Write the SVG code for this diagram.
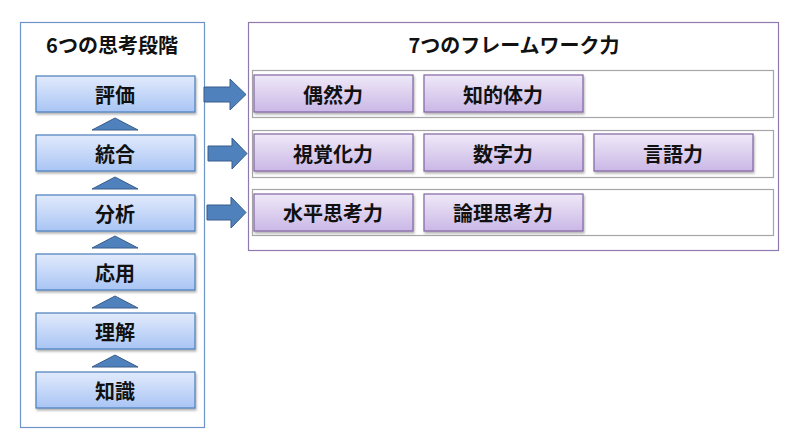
<svg xmlns="http://www.w3.org/2000/svg" width="808" height="447" viewBox="0 0 808 447">
<defs>
<linearGradient id="gBlue" x1="0" y1="0" x2="0" y2="1">
<stop offset="0" stop-color="#e2eafc"/>
<stop offset="1" stop-color="#a9c5f4"/>
</linearGradient>
<linearGradient id="gPurple" x1="0" y1="0" x2="0" y2="1">
<stop offset="0" stop-color="#efe9f8"/>
<stop offset="1" stop-color="#cab7e6"/>
</linearGradient>
<filter id="sh" x="-10%" y="-20%" width="130%" height="160%">
<feDropShadow dx="1" dy="2" stdDeviation="1.2" flood-color="#000" flood-opacity="0.3"/>
</filter>
<path id="up" d="M0,-6 L23,6 L-23,6 Z"/>
</defs>
<style>
text{font-family:"Noto Sans CJK JP","Noto Sans CJK SC",sans-serif;font-weight:bold;text-anchor:middle;dominant-baseline:central;fill:#111}
.t{font-size:20px}
.l{font-size:20px}
.stage{fill:url(#gBlue);stroke:#4a7ebb;stroke-width:1.2;filter:url(#sh)}
.fw{fill:url(#gPurple);stroke:#8064a2;stroke-width:1.2;filter:url(#sh)}
.row{fill:#fff;stroke:#a6a6a6;stroke-width:1.2}
.tri{fill:#4f81bd;stroke:#385d8a;stroke-width:1}
.arr{fill:#4f81bd;stroke:#385d8a;stroke-width:1}
</style>
<rect width="808" height="447" fill="#fff"/>
<g id="stages-panel">
<rect x="20.5" y="22.5" width="184" height="405" fill="#fff" stroke="#6d94c9" stroke-width="1.2"/>
<text class="t" x="112" y="44">6つの思考段階</text>
</g>
<g id="frameworks-panel">
<rect x="248.5" y="22.5" width="530" height="228" fill="#fff" stroke="#8f7ab0" stroke-width="1.2"/>
<text class="t" x="514" y="44">7つのフレームワーク力</text>
<rect class="row" x="252.5" y="70.5" width="521" height="47"/>
<rect class="row" x="252.5" y="130.5" width="521" height="47"/>
<rect class="row" x="252.5" y="189.5" width="521" height="46"/>
</g>
<g id="s-hyoka"><rect class="stage" x="36" y="76" width="159" height="36"/><text class="l" x="115" y="94">評価</text></g>
<g id="s-togo"><rect class="stage" x="36" y="135" width="159" height="36"/><text class="l" x="115" y="153">統合</text></g>
<g id="s-bunseki"><rect class="stage" x="36" y="195" width="159" height="36"/><text class="l" x="115" y="213">分析</text></g>
<g id="s-oyo"><rect class="stage" x="36" y="254" width="159" height="36"/><text class="l" x="115" y="272">応用</text></g>
<g id="s-rikai"><rect class="stage" x="36" y="313" width="159" height="36"/><text class="l" x="115" y="331">理解</text></g>
<g id="s-chishiki"><rect class="stage" x="36" y="372" width="159" height="36"/><text class="l" x="115" y="390">知識</text></g>
<g id="f-guzen"><rect class="fw" x="254" y="75" width="159" height="37"/><text class="l" x="333" y="94">偶然力</text></g>
<g id="f-chiteki"><rect class="fw" x="424" y="75" width="159" height="37"/><text class="l" x="503" y="94">知的体力</text></g>
<g id="f-shikaku"><rect class="fw" x="254" y="134" width="159" height="37"/><text class="l" x="333" y="153">視覚化力</text></g>
<g id="f-suji"><rect class="fw" x="424" y="134" width="159" height="37"/><text class="l" x="503" y="153">数字力</text></g>
<g id="f-gengo"><rect class="fw" x="594" y="134" width="159" height="37"/><text class="l" x="673" y="153">言語力</text></g>
<g id="f-suihei"><rect class="fw" x="254" y="194" width="159" height="37"/><text class="l" x="333" y="212">水平思考力</text></g>
<g id="f-ronri"><rect class="fw" x="424" y="194" width="159" height="37"/><text class="l" x="503" y="212">論理思考力</text></g>
<g id="connectors">
<use href="#up" class="tri" x="115" y="124"/>
<use href="#up" class="tri" x="115" y="183"/>
<use href="#up" class="tri" x="115" y="242"/>
<use href="#up" class="tri" x="115" y="302"/>
<use href="#up" class="tri" x="115" y="361"/>
<path class="arr" d="M204,87 L230,87 L230,79 L246,94.5 L230,110 L230,102 L204,102 Z"/>
<path class="arr" d="M208,146 L232,146 L232,138 L247,153.5 L232,169 L232,161 L208,161 Z"/>
<path class="arr" d="M207,205 L231,205 L231,197 L246,212.5 L231,228 L231,220 L207,220 Z"/>
</g>
</svg>
